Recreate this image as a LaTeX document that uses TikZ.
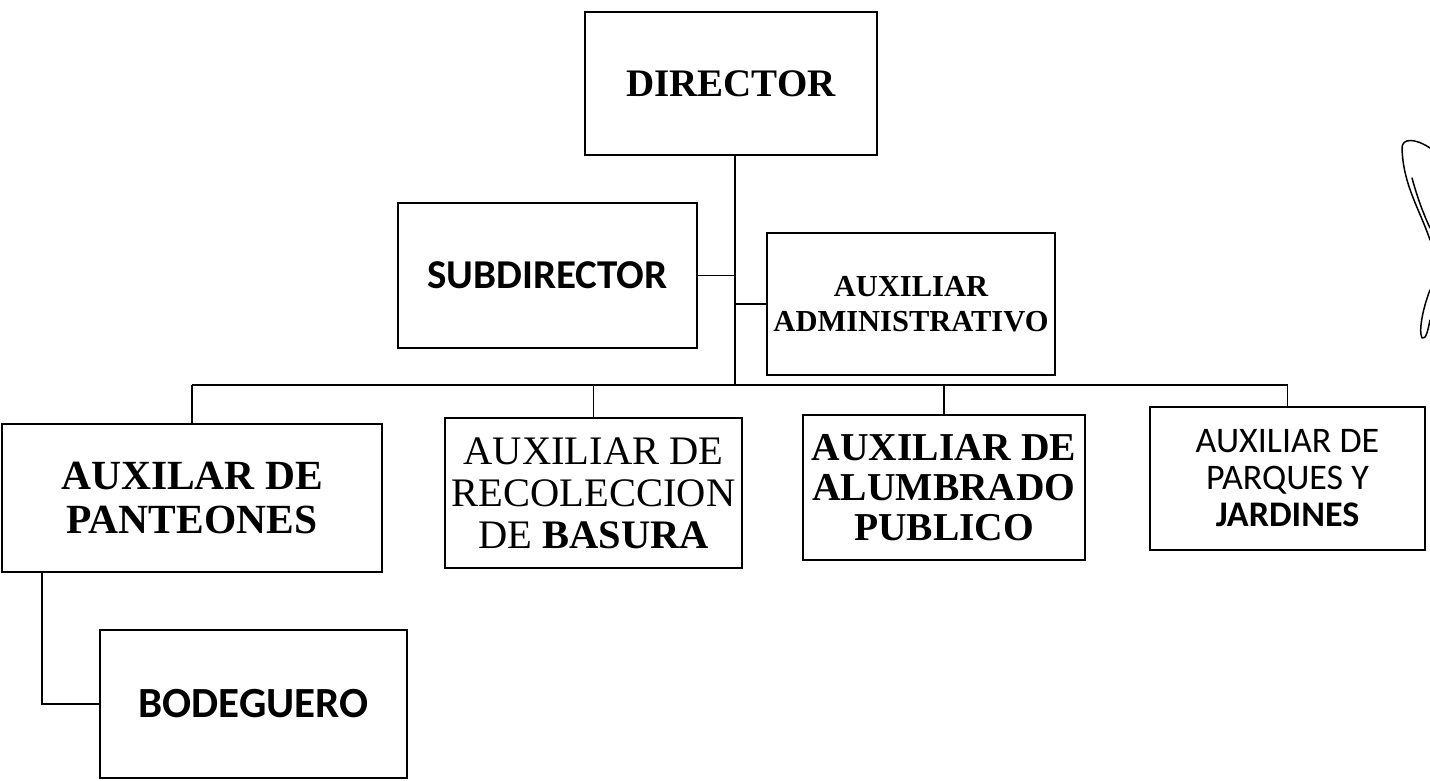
\documentclass[tikz,border=0pt]{standalone}
\usepackage{fontspec}
\setmainfont{Liberation Serif}
\newfontfamily\calib{Carlito}
\begin{document}
\begin{tikzpicture}[x=1pt,y=-1pt,
  orgbox/.style={draw,line width=1.3pt,inner sep=0pt,align=center,minimum width=#1},
  conn/.style={line width=1.3pt}]
\useasboundingbox (0,0) rectangle (1430,781);
\node[orgbox=292pt,minimum height=143pt,font=\fontsize{39}{44}\selectfont\bfseries] (dir) at (731,83.5) {DIRECTOR};
\node[orgbox=299pt,minimum height=145pt,font=\calib\fontsize{41}{44}\selectfont\bfseries] (sub) at (547.5,275.5) {SUBDIRECTOR};
\node[orgbox=288pt,minimum height=142pt,font=\fontsize{30.5}{35}\selectfont\bfseries] (adm) at (911,304) {AUXILIAR\\ADMINISTRATIVO};
\node[orgbox=380pt,minimum height=148pt,font=\fontsize{41.5}{44}\selectfont\bfseries] (pan) at (192,498) {AUXILAR DE\\PANTEONES};
\node[orgbox=297pt,minimum height=150pt,font=\fontsize{40.5}{42}\selectfont] (rec) at (593.5,493) {AUXILIAR DE\\RECOLECCION\\DE \textbf{BASURA}};
\node[orgbox=282pt,minimum height=145pt,font=\fontsize{39.5}{40}\selectfont\bfseries] (alu) at (944,487.5) {AUXILIAR DE\\ALUMBRADO\\PUBLICO};
\node[orgbox=275pt,minimum height=143pt,font=\calib\fontsize{36}{37}\selectfont] (par) at (1287.5,478.5) {AUXILIAR DE\\PARQUES Y\\\textbf{JARDINES}};
\node[orgbox=307pt,minimum height=148pt,font=\calib\fontsize{43}{46}\selectfont\bfseries] (bod) at (253.5,704) {BODEGUERO};
\coordinate (bus) at (735,385);
\coordinate (bodx) at (42,0);
\draw[conn] (dir.south -| bus) -- (bus);
\draw[conn] (sub.east) -- (sub.east -| bus);
\draw[conn] (adm.west) -- (adm.west -| bus);
\draw[conn] (pan.north |- bus) -- (par.north |- bus);
\draw[conn] (pan.north) -- (pan.north |- bus);
\draw[conn] (rec.north) -- (rec.north |- bus);
\draw[conn] (alu.north) -- (alu.north |- bus);
\draw[conn] (par.north) -- (par.north |- bus);
\draw[conn] (pan.south -| bodx) |- (bod.west);
% stray handwritten mark at the right edge
\draw[line width=1.5pt,line cap=round,line join=round]
  (1430,148) .. controls (1415,138) and (1402,138) .. (1402,148)
  .. controls (1403,185) and (1420,210) .. (1430,240);
\draw[line width=1.5pt,line cap=round] (1412,178) .. controls (1418,200) and (1424,215) .. (1430,228);
\draw[line width=1.5pt,line cap=round,line join=round]
  (1430,290) .. controls (1424,305) and (1418,330) .. (1422,338)
  .. controls (1426,340) and (1428,330) .. (1430,320);
\end{tikzpicture}
\end{document}
